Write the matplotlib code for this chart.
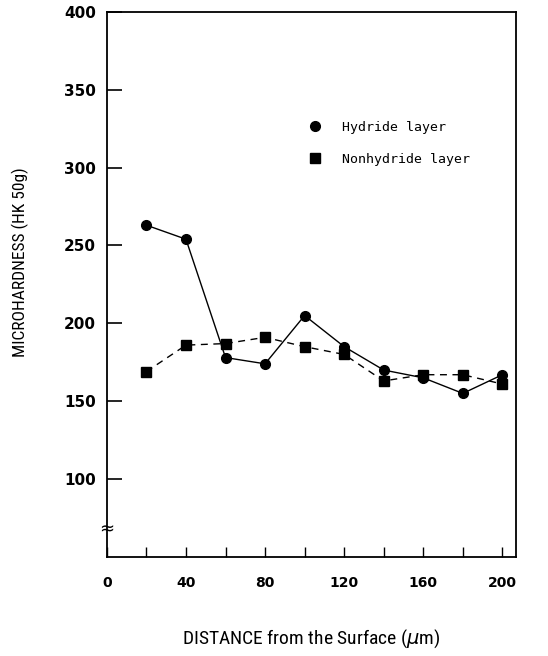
import matplotlib.pyplot as plt

# distance from the surface (um)
distance = [20, 40, 60, 80, 100, 120, 140, 160, 180, 200]
hydride = [263, 254, 178, 174, 205, 185, 170, 165, 155, 167]
nonhydride = [169, 186, 187, 191, 185, 180, 163, 167, 167, 161]

xticks = [0, 20, 40, 60, 80, 100, 120, 140, 160, 180, 200]
xlabels = ['0', '', '40', '', '80', '', '120', '', '160', '', '200']
yticks = [100, 150, 200, 250, 300, 350, 400]

narrow = ['Roboto Condensed', 'DejaVu Sans']

fig = plt.figure(figsize=(5.48, 6.56), dpi=100)
ax = fig.add_axes([0.195, 0.151, 0.747, 0.831])

ax.plot(distance, hydride, color='black', lw=1.0, ls='-',
        marker='o', ms=7, label='Hydride layer')
ax.plot(distance, nonhydride, color='black', lw=1.0, ls=(0, (5, 4)),
        marker='s', ms=6.5, label='Nonhydride layer')

ax.set_xlim(0, 207)
ax.set_ylim(50, 400)
ax.set_xticks(xticks)
ax.set_xticklabels(xlabels)
ax.set_yticks(yticks)
ax.tick_params(axis='y', direction='in', length=11, width=1.2, pad=8,
               labelsize=11)
ax.tick_params(axis='x', direction='in', length=7, width=1.0, pad=14,
               labelsize=10)
for lab in ax.get_yticklabels():
    lab.set_fontweight('bold')
for lab in ax.get_xticklabels():
    lab.set_fontweight('semibold')

for s in ax.spines.values():
    s.set_linewidth(1.3)

# axis break mark
ax.text(0, 68, '\u2248', fontsize=13, ha='center', va='center', clip_on=False)

leg = ax.legend(loc='upper left', bbox_to_anchor=(0.48, 0.822), frameon=False,
                handlelength=0, handletextpad=2.0, labelspacing=1.45,
                prop={'family': 'DejaVu Sans Mono', 'size': 9.5})

ax.set_ylabel('MICROHARDNESS (HK 50g)', family=narrow, fontsize=12.5)
ax.yaxis.set_label_coords(-0.19, 0.54)
ax.set_xlabel('DISTANCE from the Surface ($\\mu$m)', family=narrow,
              fontsize=14, labelpad=27)

fig.savefig('out.png', dpi=100)
